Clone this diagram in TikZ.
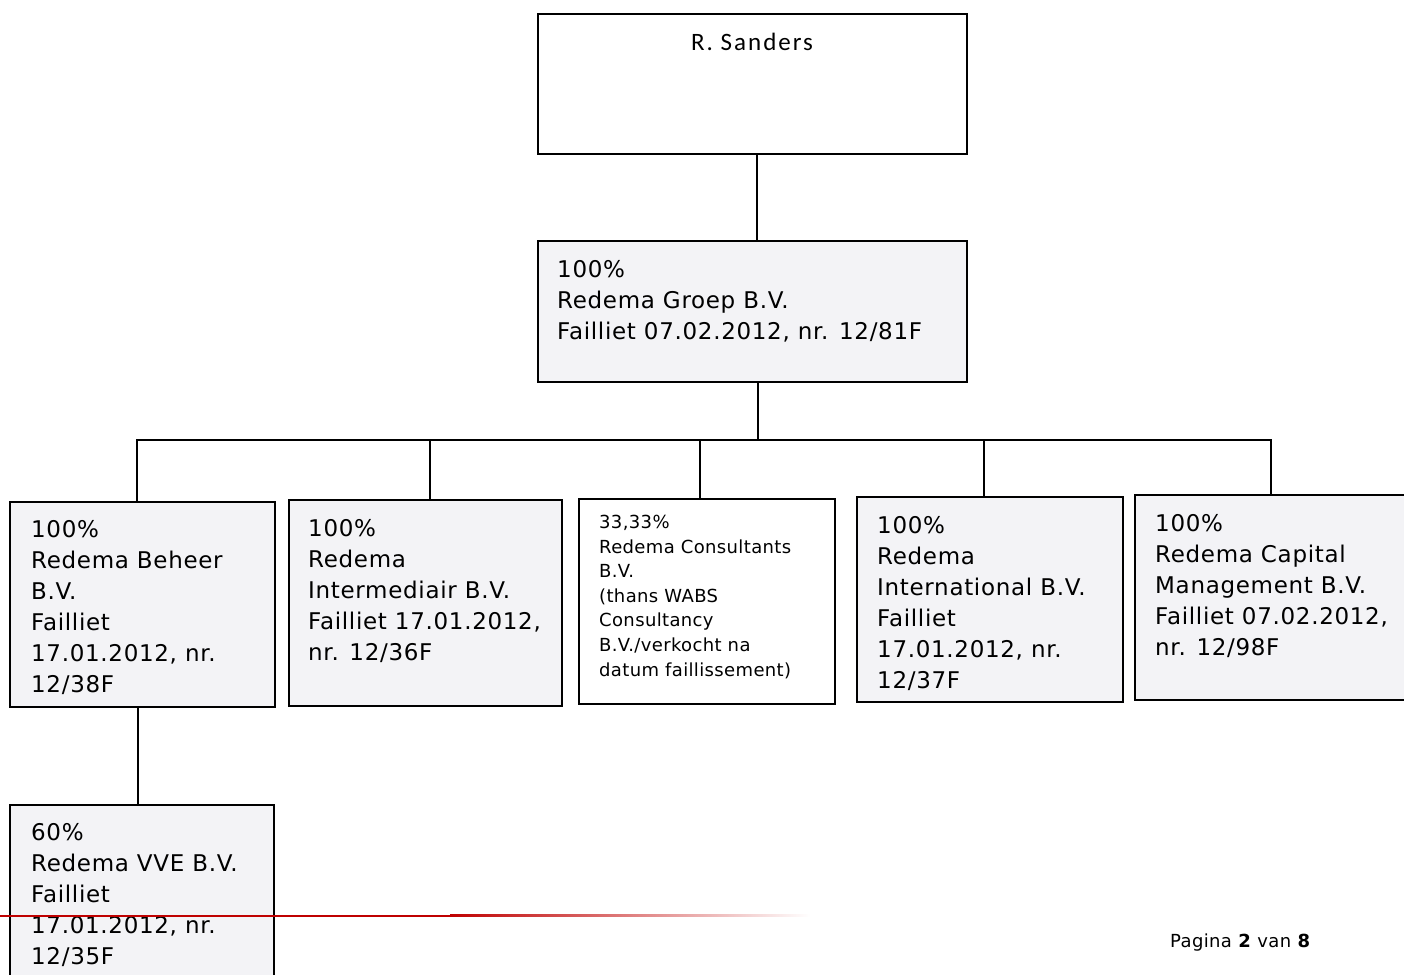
\documentclass[tikz,border=0pt]{standalone}
\usepackage{fontspec}
\setmainfont[LetterSpace=2]{DejaVu Sans}
\newfontfamily\bigfont[LetterSpace=3]{DejaVu Sans}
\newfontfamily\namefont[LetterSpace=8]{Carlito}
\begin{document}
\begin{tikzpicture}[x=1pt,y=-1pt,
  box/.style={draw=black,line width=1.6pt,fill=boxfill,minimum width=#1,anchor=north west,inner sep=0pt},
  txt/.style={anchor=north west,inner sep=0pt,align=left,font=\bigfont\fontsize{23}{31}\selectfont},
  smalltxt/.style={anchor=north west,inner sep=0pt,align=left,font=\fontsize{18}{24.6}\selectfont},
  link/.style={line width=1.6pt}]
\definecolor{boxfill}{HTML}{F3F3F6}
\useasboundingbox (0,0) rectangle (1404,974);
% boxes
\node[box=429pt,minimum height=140pt,fill=white] (sanders) at (537,13) {};
\node[box=429pt,minimum height=141pt] (groep) at (537,240) {};
\node[box=265pt,minimum height=205pt] (beheer) at (9,501) {};
\node[box=273pt,minimum height=206pt] (inter) at (288,499) {};
\node[box=256pt,minimum height=205pt,fill=white] (cons) at (578,498) {};
\node[box=266pt,minimum height=205pt] (intl) at (856,496) {};
\node[box=290pt,minimum height=205pt] (cap) at (1134,494) {};
\node[box=264pt,minimum height=190pt] (vve) at (9,804) {};
% texts
\node[anchor=center,inner sep=0pt,font=\namefont\fontsize{25}{30}\selectfont] (tsanders) at (752,42) {R. Sanders};
\node[txt] (tgroep) at (557,260) {100\%\\Redema Groep B.V.\\Failliet 07.02.2012, nr. 12/81F};
\node[txt] (tbeheer) at (31,520) {100\%\\Redema Beheer\\B.V.\\Failliet\\17.01.2012, nr.\\12/38F};
\node[txt] (tinter) at (308,519) {100\%\\Redema\\Intermediair B.V.\\Failliet 17.01.2012,\\nr. 12/36F};
\node[smalltxt] (tcons) at (599,515) {33,33\%\\Redema Consultants\\B.V.\\(thans WABS\\Consultancy\\B.V./verkocht na\\datum faillissement)};
\node[txt] (tintl) at (877,516) {100\%\\Redema\\International B.V.\\Failliet\\17.01.2012, nr.\\12/37F};
\node[txt] (tcap) at (1155,514) {100\%\\Redema Capital\\Management B.V.\\Failliet 07.02.2012,\\nr. 12/98F};
\node[txt] (tvve) at (31,823) {60\%\\Redema VVE B.V.\\Failliet\\17.01.2012, nr.\\12/35F};
\node[anchor=west,inner sep=0pt,font=\fontsize{18}{22}\selectfont] (page) at (1170,943) {Pagina \textbf{2} van \textbf{8}};
% connectors
\coordinate (bus) at (758,440);
\draw[link] (sanders.south -| 757,0) -- (groep.north -| 757,0);
\draw[link] (groep.south -| bus) -- (bus);
\draw[link] (beheer.north -| 137,0) -- (137,440) -- (1271,440) -- (cap.north -| 1271,0);
\draw[link] (430,440) -- (inter.north -| 430,0);
\draw[link] (700,440) -- (cons.north -| 700,0);
\draw[link] (984,440) -- (intl.north -| 984,0);
\draw[link] (beheer.south -| 138,0) -- (vve.north -| 138,0);
% scan artefact line
\fill[red!75!black] (0,914.5) rectangle (450,916.5);
\shade[left color=red!75!black,right color=white] (450,914.5) rectangle (810,916.5);
\end{tikzpicture}
\end{document}
